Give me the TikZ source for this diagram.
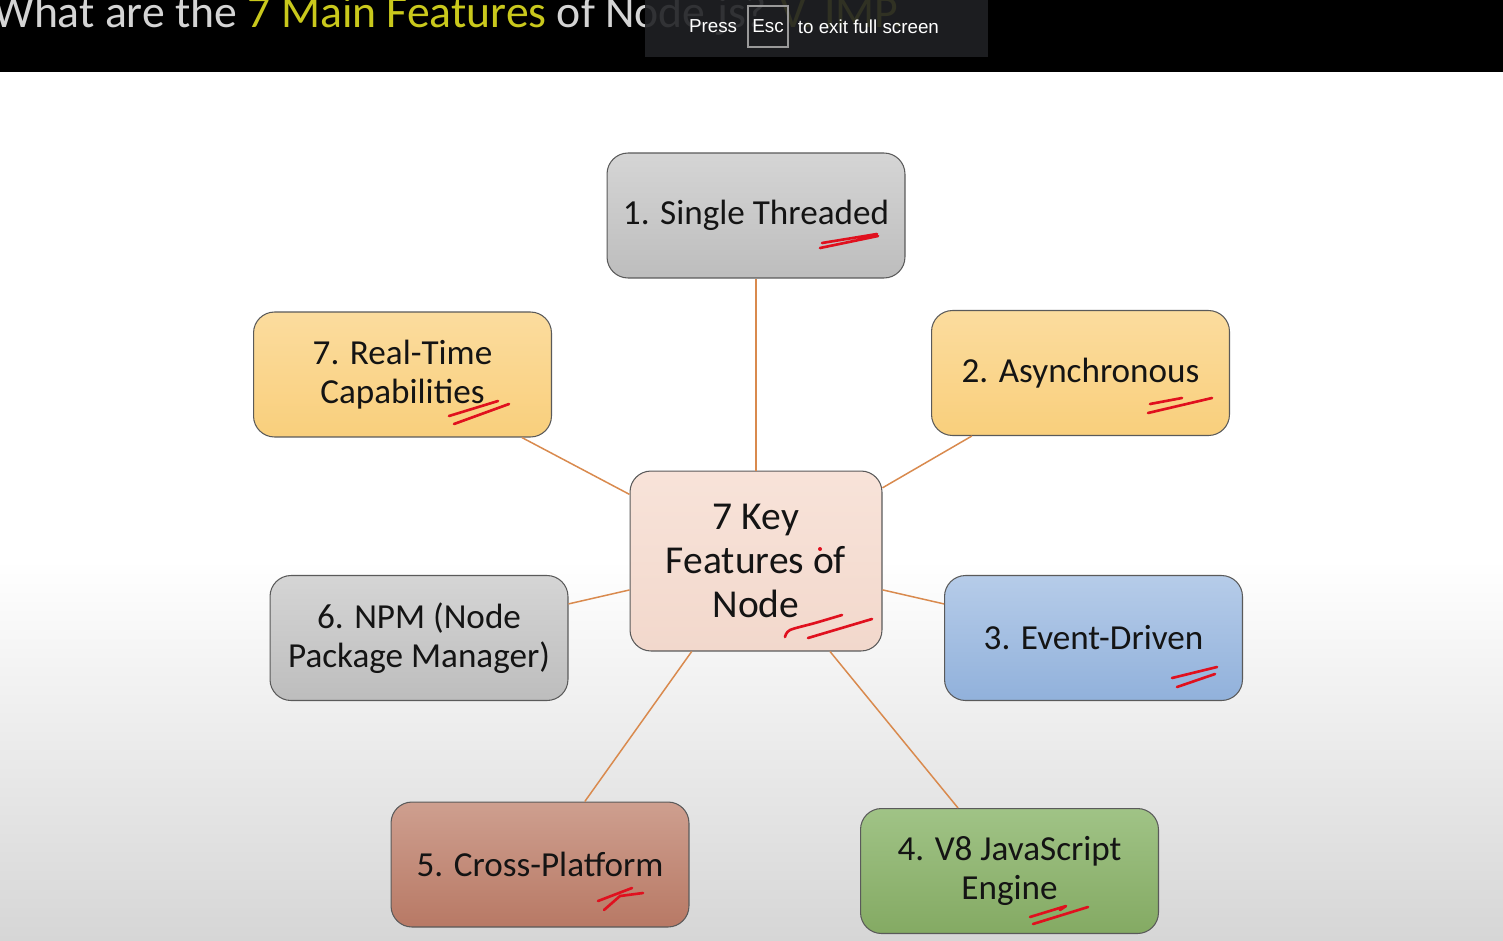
\documentclass[tikz,border=0pt]{standalone}
\usepackage{fontspec}
\setmainfont{Carlito}
\newfontfamily\uifont{Liberation Sans}
\usetikzlibrary{positioning,calc}
\definecolor{linkorange}{HTML}{D98A4E}
\definecolor{boxborder}{HTML}{5A5A5A}
\definecolor{textblack}{HTML}{141414}
\definecolor{inkred}{HTML}{E0101E}
\definecolor{titlegray}{HTML}{D4D4D4}
\definecolor{titleyellow}{HTML}{C9C81C}
\definecolor{overlaygray}{HTML}{202124}
\definecolor{bggray}{HTML}{D6D6D6}
\definecolor{graytop}{HTML}{D5D5D5}
\definecolor{graybot}{HTML}{BDBDBD}
\definecolor{yellowtop}{HTML}{FBDC9E}
\definecolor{yellowbot}{HTML}{F9CF7C}
\definecolor{bluetop}{HTML}{B6CCE9}
\definecolor{bluebot}{HTML}{91B1DB}
\definecolor{greentop}{HTML}{A0C386}
\definecolor{greenbot}{HTML}{84AA63}
\definecolor{browntop}{HTML}{CE9F8F}
\definecolor{brownbot}{HTML}{B87965}
\definecolor{hubtop}{HTML}{F8E3D9}
\definecolor{hubbot}{HTML}{F2D8CC}
\tikzset{
  feature/.style={draw=boxborder, line width=0.6pt, rounded corners=0.42cm,
    minimum width=5.96cm, minimum height=2.5cm, align=center,
    text=textblack, font=\fontsize{20}{22}\selectfont},
  hub/.style={feature, minimum width=5.04cm, minimum height=3.6cm,
    font=\fontsize{22.5}{25}\selectfont},
  graybox/.style={feature, top color=graytop, bottom color=graybot},
  yellowbox/.style={feature, top color=yellowtop, bottom color=yellowbot},
  link/.style={draw=linkorange, line width=0.85pt},
  scribble/.style={draw=inkred, line width=1.5pt, line cap=round, line join=round},
  uitext/.style={text=white, inner sep=0, font=\uifont\fontsize{10.7}{12}\selectfont},
}

\begin{document}
\begin{tikzpicture}[x=0.02cm,y=-0.02cm]
  \useasboundingbox (0,0) rectangle (1503,940);
  % background: black bar, then white fading to gray
  \fill[black] (0,0) rectangle (1503,72);
  \fill[white] (0,72) rectangle (1503,560);
  \shade[top color=white, bottom color=bggray] (0,560) rectangle (1503,940);

  % title, cut at the top of the screen
  \node[anchor=base west, inner sep=0, text=titlegray, font=\fontsize{26}{30}\selectfont] (title) at (-7,27)
    {What are the \textcolor{titleyellow}{7 Main Features} of Node.js? \textcolor{titleyellow}{V. IMP.}};

  % full screen message
  \fill[overlaygray, opacity=0.9] (645,0) rectangle (988,57);
  \node[draw=gray!80, line width=0.6pt, minimum width=0.8cm, minimum height=0.82cm, inner sep=0,
    uitext] (esc) at (768,26.5) {Esc};
  \node[uitext, left=0.2cm of esc] (press) {Press};
  \node[uitext, right=0.18cm of esc] (exitmsg) {to exit full screen};

  % the hub and the seven features
  \node[hub, top color=hubtop, bottom color=hubbot] (hubnode) at (756,561) {7 Key\\Features of\\Node};
  \node[graybox] (single) at (756,215.5) {1. Single Threaded};
  \node[yellowbox] (async) at (1080.5,373) {2. Asynchronous};
  \node[feature, top color=bluetop, bottom color=bluebot] (event) at (1093.5,638) {3. Event-Driven};
  \node[feature, top color=greentop, bottom color=greenbot] (veight) at (1009.5,871) {4. V8 JavaScript\\Engine};
  \node[feature, top color=browntop, bottom color=brownbot] (cross) at (540,864.5) {5. Cross-Platform};
  \node[graybox] (npm) at (419,638) {6. NPM (Node\\Package Manager)};
  \node[yellowbox] (realtime) at (402.5,374.5) {7. Real-Time\\Capabilities};

  % spokes
  \foreach \f in {single,async,event,veight,cross,npm,realtime}
    \draw[link] (hubnode) -- (\f);

  % red pen marks
  \draw[scribble] (820,248) -- (878,236) (822,243) -- (877,234);
  \draw[scribble] (1150,404) -- (1182,398) (1148,413) -- (1212,398);
  \draw[scribble] (1172,678) -- (1217,667) (1177,687) -- (1215,674);
  \draw[scribble] (1030,917) -- (1066,906) -- (1060,910) (1033,924) -- (1088,907);
  \draw[scribble] (598,901) -- (632,888) (604,910) -- (620,896) -- (643,893);
  \draw[scribble] (449,416) -- (498,401) (454,424) -- (509,404);
  \draw[scribble] plot[smooth] coordinates {(785,637) (790,630) (815,623) (842,615)};
  \draw[scribble] (808,638) -- (872,619);
  \fill[inkred] (820,549) circle (2);
\end{tikzpicture}
\end{document}
